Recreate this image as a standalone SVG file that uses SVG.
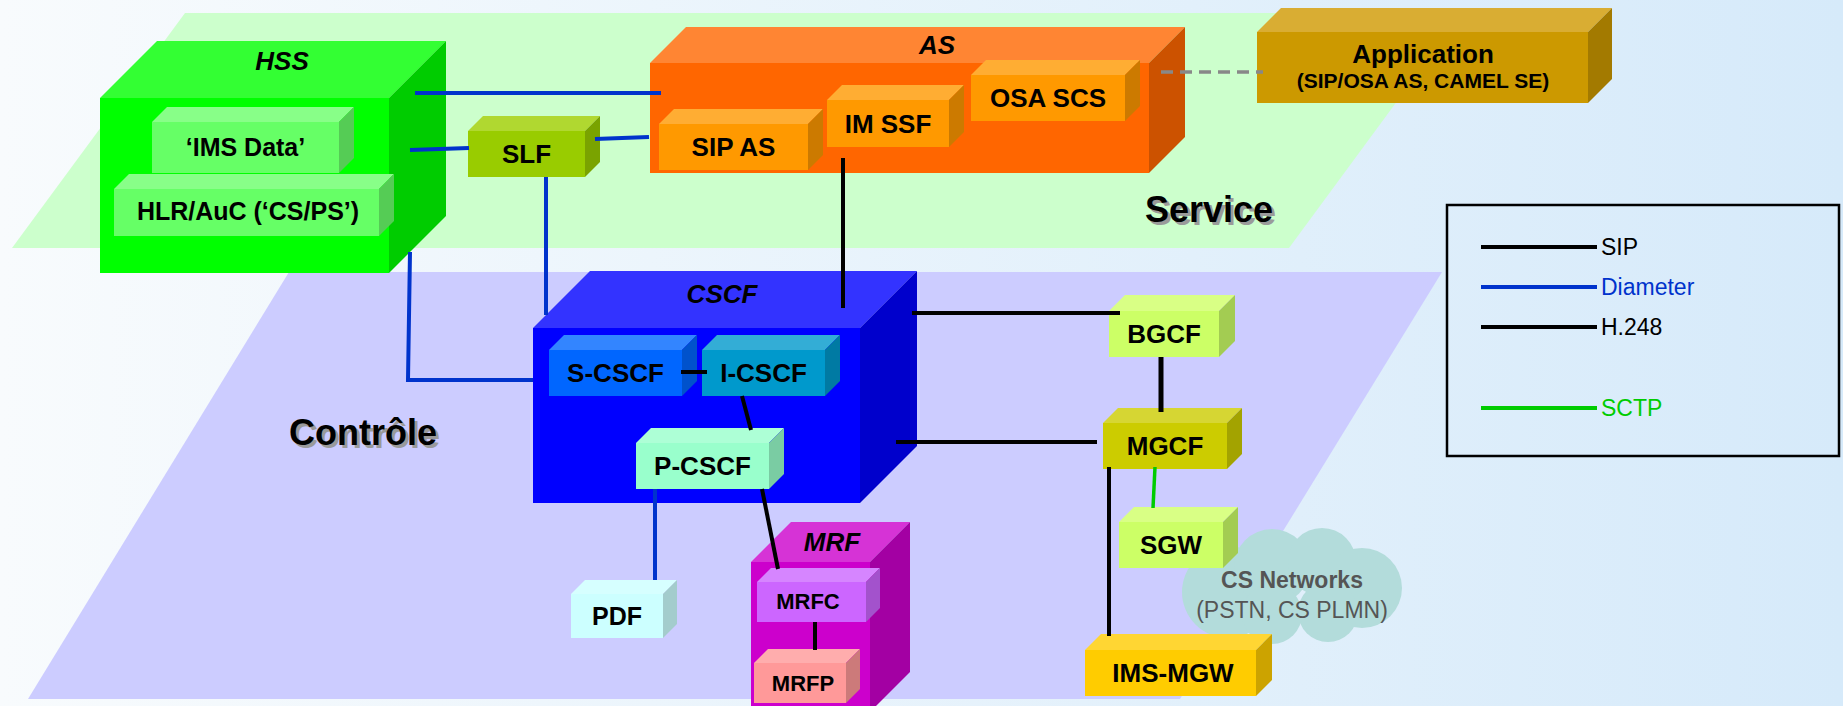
<svg xmlns="http://www.w3.org/2000/svg" width="1843" height="706" viewBox="0 0 1843 706">
<defs>
<linearGradient id="bg" x1="0" y1="0" x2="1" y2="0">
<stop offset="0" stop-color="#f8fbfd"/>
<stop offset="1" stop-color="#d6eafa"/>
</linearGradient>
</defs>
<style>
text{font-family:"Liberation Sans",Arial,sans-serif;}
.lb{font-size:26px;font-weight:bold;fill:#000;text-anchor:middle;}
.it{font-size:26px;font-weight:bold;font-style:italic;fill:#000;text-anchor:middle;}
.sm{font-size:21px;font-weight:bold;fill:#000;text-anchor:middle;}
.mr{font-size:22px;font-weight:bold;fill:#000;text-anchor:middle;}
.in{font-size:25px;font-weight:bold;fill:#000;text-anchor:middle;}
.plane{font-size:36px;font-weight:bold;fill:#000;}
.shadow{font-size:36px;font-weight:bold;fill:#9a9a9a;}
.leg{font-size:23px;}
.dia{fill:none;stroke:#0033cc;stroke-width:4;}
.sip{fill:none;stroke:#000;stroke-width:4;}
.sctp{fill:none;stroke:#00cc00;stroke-width:3.5;}
.dash{fill:none;stroke:#888;stroke-width:3.5;stroke-dasharray:12 7;}
</style>
<rect x="0" y="0" width="1843" height="706" fill="url(#bg)"/>
<g id="planes">
<polygon points="185,13 1462,13 1289,248 12,248" fill="#ccffcc"/>
<polygon points="289,272 1442,272 1180,699 28,699" fill="#ccccff"/>
<text class="shadow" x="1148" y="225">Service</text>
<text class="plane" x="1145" y="222">Service</text>
<text class="shadow" x="292" y="448">Contrôle</text>
<text class="plane" x="289" y="445">Contrôle</text>
</g>
<g id="cloud">
<g fill="#b3dcdb">
<circle cx="1228" cy="592" r="46"/>
<circle cx="1272" cy="567" r="38"/>
<circle cx="1322" cy="562" r="34"/>
<circle cx="1362" cy="588" r="40"/>
<circle cx="1328" cy="612" r="30"/>
<circle cx="1272" cy="614" r="30"/>
</g>
<text x="1292" y="588" style="font-size:23px;font-weight:bold;fill:#555;text-anchor:middle;">CS Networks</text>
<text x="1292" y="618" style="font-size:23px;fill:#555;text-anchor:middle;">(PSTN, CS PLMN)</text>
</g>
<g id="HSS">
<rect x="100" y="98" width="289" height="175" fill="#00ff00"/>
<polygon points="100,98 157,41 446,41 389,98" fill="#33ff33"/>
<polygon points="389,98 446,41 446,216 389,273" fill="#00cc00"/>
<text class="it" x="282" y="70">HSS</text>
</g>
<g id="IMSData">
<rect x="152" y="122" width="187" height="51" fill="#66ff66"/>
<polygon points="152,122 167,107 354,107 339,122" fill="#88ff88"/>
<polygon points="339,122 354,107 354,158 339,173" fill="#55cc55"/>
<text class="in" x="245.5" y="156">‘IMS Data’</text>
</g>
<g id="HLR">
<rect x="114" y="189" width="265" height="47" fill="#66ff66"/>
<polygon points="114,189 129,174 394,174 379,189" fill="#88ff88"/>
<polygon points="379,189 394,174 394,221 379,236" fill="#55cc55"/>
<text class="in" x="248" y="220">HLR/AuC (‘CS/PS’)</text>
</g>
<g id="SLF">
<rect x="468" y="131" width="117" height="46" fill="#99cc00"/>
<polygon points="468,131 483,116 600,116 585,131" fill="#b0d830"/>
<polygon points="585,131 600,116 600,162 585,177" fill="#7aa300"/>
<text class="lb" x="526.5" y="163">SLF</text>
</g>
<g id="AS">
<rect x="650" y="63" width="499" height="110" fill="#ff6600"/>
<polygon points="650,63 686,27 1185,27 1149,63" fill="#ff8533"/>
<polygon points="1149,63 1185,27 1185,137 1149,173" fill="#cc5200"/>
<text class="it" x="937" y="54">AS</text>
</g>
<g id="SIPAS">
<rect x="659" y="124" width="149" height="46" fill="#ff9900"/>
<polygon points="659,124 674,109 823,109 808,124" fill="#ffad33"/>
<polygon points="808,124 823,109 823,155 808,170" fill="#cc7a00"/>
<text class="lb" x="733.5" y="156">SIP AS</text>
</g>
<g id="IMSSF">
<rect x="827" y="100" width="122" height="47" fill="#ff9900"/>
<polygon points="827,100 842,85 964,85 949,100" fill="#ffad33"/>
<polygon points="949,100 964,85 964,132 949,147" fill="#cc7a00"/>
<text class="lb" x="888" y="133">IM SSF</text>
</g>
<g id="OSASCS">
<rect x="971" y="75" width="154" height="46" fill="#ff9900"/>
<polygon points="971,75 986,60 1140,60 1125,75" fill="#ffad33"/>
<polygon points="1125,75 1140,60 1140,106 1125,121" fill="#cc7a00"/>
<text class="lb" x="1048" y="107">OSA SCS</text>
</g>
<g id="Application">
<rect x="1257" y="32" width="331" height="71" fill="#cc9900"/>
<polygon points="1257,32 1281,8 1612,8 1588,32" fill="#d9ad33"/>
<polygon points="1588,32 1612,8 1612,79 1588,103" fill="#a37a00"/>
<text class="lb" x="1423" y="63">Application</text>
<text class="sm" x="1423" y="88">(SIP/OSA AS, CAMEL SE)</text>
</g>
<g id="CSCF">
<rect x="533" y="328" width="327" height="175" fill="#0000ff"/>
<polygon points="533,328 590,271 917,271 860,328" fill="#3333ff"/>
<polygon points="860,328 917,271 917,446 860,503" fill="#0000cc"/>
<text class="it" x="722" y="303">CSCF</text>
</g>
<g id="SCSCF">
<rect x="549" y="350" width="133" height="46" fill="#0066ff"/>
<polygon points="549,350 564,335 697,335 682,350" fill="#3385ff"/>
<polygon points="682,350 697,335 697,381 682,396" fill="#0052cc"/>
<text class="lb" x="615.5" y="382">S-CSCF</text>
</g>
<g id="ICSCF">
<rect x="702" y="350" width="123" height="46" fill="#0099cc"/>
<polygon points="702,350 717,335 840,335 825,350" fill="#33add6"/>
<polygon points="825,350 840,335 840,381 825,396" fill="#007aa3"/>
<text class="lb" x="763.5" y="382">I-CSCF</text>
</g>
<g id="PCSCF">
<rect x="636" y="443" width="133" height="46" fill="#99ffcc"/>
<polygon points="636,443 651,428 784,428 769,443" fill="#adffd6"/>
<polygon points="769,443 784,428 784,474 769,489" fill="#7acca3"/>
<text class="lb" x="702.5" y="475">P-CSCF</text>
</g>
<g id="PDF">
<rect x="571" y="594" width="92" height="44" fill="#ccffff"/>
<polygon points="571,594 585,580 677,580 663,594" fill="#d6ffff"/>
<polygon points="663,594 677,580 677,624 663,638" fill="#a3cccc"/>
<text class="in" x="617" y="625">PDF</text>
</g>
<g id="MRF">
<rect x="751" y="562" width="119" height="150" fill="#cc00cc"/>
<polygon points="751,562 791,522 910,522 870,562" fill="#d633d6"/>
<polygon points="870,562 910,522 910,672 870,712" fill="#a300a3"/>
<text class="it" x="832" y="551">MRF</text>
</g>
<g id="MRFC">
<rect x="757" y="582" width="109" height="40" fill="#cc66ff"/>
<polygon points="757,582 771,568 880,568 866,582" fill="#d685ff"/>
<polygon points="866,582 880,568 880,608 866,622" fill="#a352cc"/>
<text class="mr" x="808" y="609">MRFC</text>
</g>
<g id="MRFP">
<rect x="754" y="663" width="92" height="40" fill="#ff9999"/>
<polygon points="754,663 768,649 860,649 846,663" fill="#ffadad"/>
<polygon points="846,663 860,649 860,689 846,703" fill="#cc7a7a"/>
<text class="mr" x="803" y="691">MRFP</text>
</g>
<g id="BGCF">
<rect x="1109" y="311" width="110" height="46" fill="#ccff66"/>
<polygon points="1109,311 1125,295 1235,295 1219,311" fill="#d9ff85"/>
<polygon points="1219,311 1235,295 1235,341 1219,357" fill="#a3cc52"/>
<text class="lb" x="1164" y="343">BGCF</text>
</g>
<g id="MGCF">
<rect x="1103" y="423" width="124" height="46" fill="#cccc00"/>
<polygon points="1103,423 1118,408 1242,408 1227,423" fill="#d6d633"/>
<polygon points="1227,423 1242,408 1242,454 1227,469" fill="#a3a300"/>
<text class="lb" x="1165" y="455">MGCF</text>
</g>
<g id="SGW">
<rect x="1119" y="522" width="104" height="46" fill="#ccff66"/>
<polygon points="1119,522 1134,507 1238,507 1223,522" fill="#d9ff85"/>
<polygon points="1223,522 1238,507 1238,553 1223,568" fill="#a3cc52"/>
<text class="lb" x="1171" y="554">SGW</text>
</g>
<g id="IMSMGW">
<rect x="1085" y="650" width="171" height="46" fill="#ffcc00"/>
<polygon points="1085,650 1101,634 1272,634 1256,650" fill="#ffd633"/>
<polygon points="1256,650 1272,634 1272,680 1256,696" fill="#cca300"/>
<text class="lb" x="1173" y="682">IMS-MGW</text>
</g>
<g id="connectors">
<path class="dia" d="M415,93 H661"/>
<path class="dia" d="M410,150 L469,148"/>
<path class="dia" d="M595,139 L649,137"/>
<path class="dia" d="M546,177 V315"/>
<path class="dia" d="M410,252 L408,380 H533"/>
<path class="dia" d="M655,489 V580"/>
<path class="sip" d="M843,158 V308"/>
<path class="sip" d="M681,372 H707"/>
<path class="sip" d="M742,396 L751,430"/>
<path class="sip" d="M762,489 L778,569"/>
<path class="sip" d="M815,622 V650"/>
<path class="sip" d="M912,313 H1120"/>
<path class="sip" d="M1161,357 V412" style="stroke-width:5"/>
<path class="sip" d="M896,442 H1097"/>
<path class="sip" d="M1109,467 V636"/>
<path class="sctp" d="M1155,467 L1153,508"/>
<path class="dash" d="M1161,72 H1263"/>
</g>
<g id="legend">
<rect x="1447" y="205" width="392" height="251" fill="none" stroke="#000" stroke-width="2.5"/>
<path class="sip" d="M1481,247 H1597"/>
<path class="dia" d="M1481,287 H1597"/>
<path class="sip" d="M1481,327 H1597"/>
<path class="sctp" d="M1481,408 H1597" style="stroke-width:4"/>
<text class="leg" x="1601" y="255" fill="#000">SIP</text>
<text class="leg" x="1601" y="295" fill="#0033cc">Diameter</text>
<text class="leg" x="1601" y="335" fill="#000">H.248</text>
<text class="leg" x="1601" y="416" fill="#00cc00">SCTP</text>
</g>
</svg>
